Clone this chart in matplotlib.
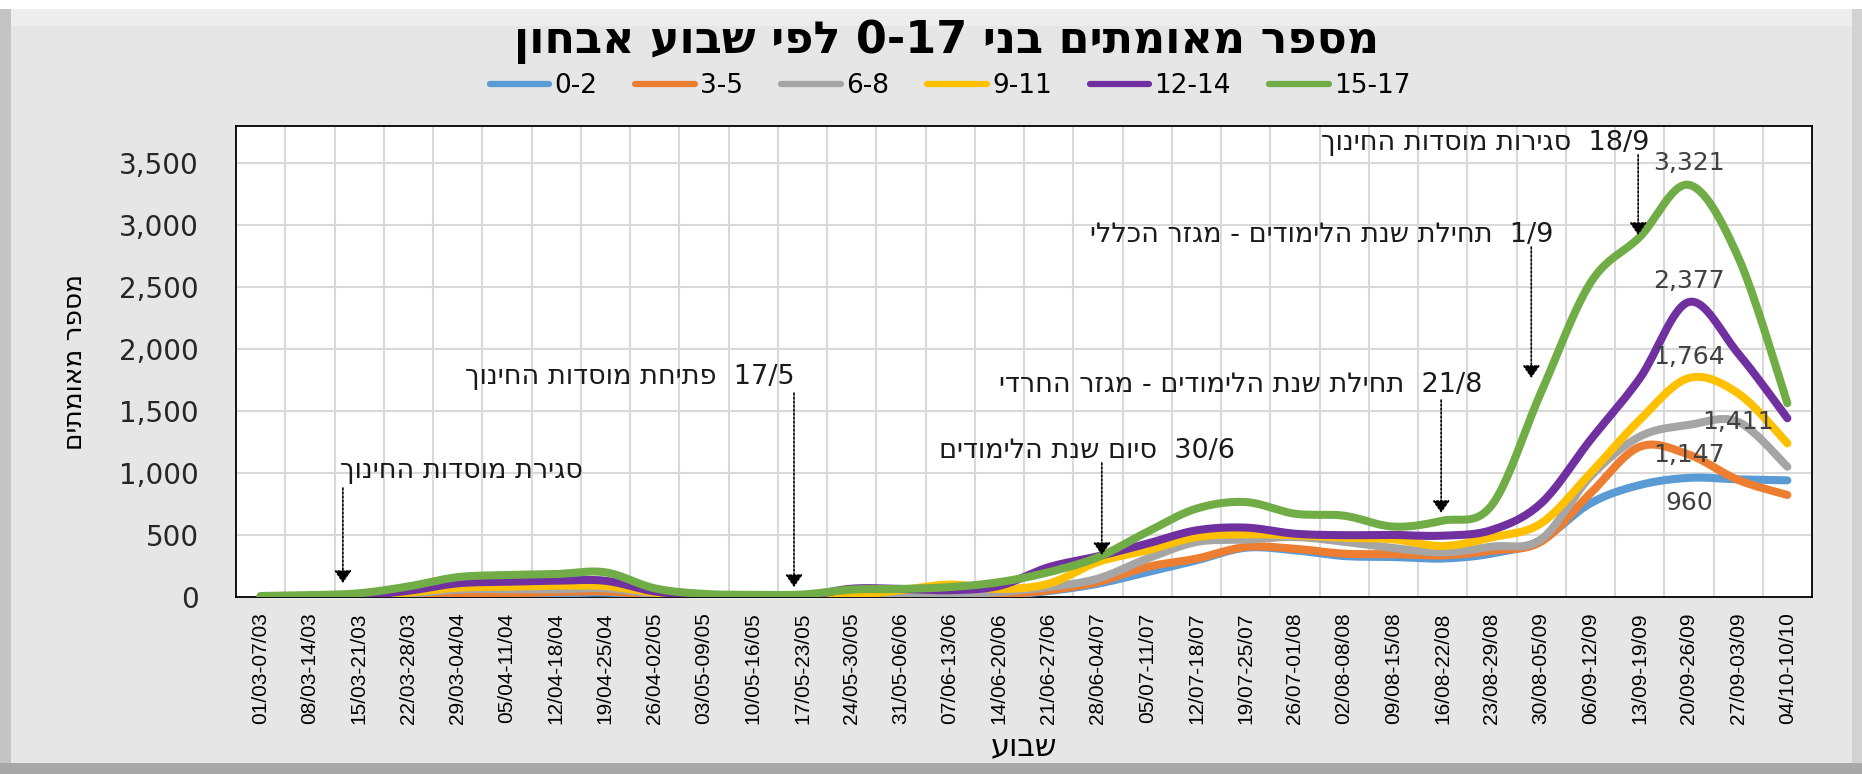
import numpy as np
import matplotlib
matplotlib.use('Agg')
import matplotlib.pyplot as plt
from matplotlib.patches import Rectangle
from matplotlib.lines import Line2D

# Semaines (axe X)
semaines = ['01/03-07/03', '08/03-14/03', '15/03-21/03', '22/03-28/03', '29/03-04/04',
            '05/04-11/04', '12/04-18/04', '19/04-25/04', '26/04-02/05', '03/05-09/05',
            '10/05-16/05', '17/05-23/05', '24/05-30/05', '31/05-06/06', '07/06-13/06',
            '14/06-20/06', '21/06-27/06', '28/06-04/07', '05/07-11/07', '12/07-18/07',
            '19/07-25/07', '26/07-01/08', '02/08-08/08', '09/08-15/08', '16/08-22/08',
            '23/08-29/08', '30/08-05/09', '06/09-12/09', '13/09-19/09', '20/09-26/09',
            '27/09-03/09', '04/10-10/10']

# Series par tranche d'age
age_0_2 = [2, 5, 8, 15, 25, 24, 28, 35, 15, 5, 3, 3, 5, 8, 10, 15,
           48, 107, 200, 295, 397, 376, 330, 322, 310, 350, 459, 755, 902, 960, 948, 940]
age_3_5 = [2, 4, 6, 15, 30, 30, 40, 45, 15, 5, 3, 3, 5, 8, 10, 20,
           54, 121, 242, 309, 403, 389, 349, 345, 335, 373, 446, 835, 1210, 1147, 943, 822]
age_6_8 = [2, 4, 8, 25, 60, 62, 62, 70, 25, 8, 4, 4, 10, 15, 20, 40,
           80, 148, 309, 443, 462, 483, 445, 395, 360, 406, 465, 970, 1292, 1386, 1411, 1050]
age_9_11 = [2, 5, 10, 35, 75, 83, 91, 88, 35, 10, 5, 5, 15, 55, 100, 65,
            107, 282, 376, 483, 505, 497, 478, 465, 411, 481, 594, 997, 1426, 1764, 1641, 1238]
age_12_14 = [2, 5, 12, 50, 110, 123, 131, 131, 45, 12, 6, 6, 67, 65, 55, 90,
             240, 328, 430, 537, 559, 510, 498, 500, 494, 540, 755, 1265, 1760, 2377, 1963, 1440]
age_15_17 = [8, 15, 30, 85, 160, 177, 185, 199, 70, 25, 18, 20, 60, 65, 80, 120,
             200, 320, 524, 712, 765, 671, 655, 567, 615, 741, 1650, 2530, 2900, 3321, 2740, 1561]

series = [age_0_2, age_3_5, age_6_8, age_9_11, age_12_14, age_15_17]
noms = ['0-2', '3-5', '6-8', '9-11', '12-14', '15-17']
couleurs = ['#5B9BD5', '#ED7D31', '#A5A5A5', '#FFC000', '#7030A0', '#70AD47']

yticks = [0, 500, 1000, 1500, 2000, 2500, 3000, 3500]

# Evenements annotes
evenements = ['סגירת מוסדות החינוך',
              '17/5  פתיחת מוסדות החינוך',
              '30/6  סיום שנת הלימודים',
              '21/8  תחילת שנת הלימודים - מגזר החרדי',
              '1/9  תחילת שנת הלימודים - מגזר הכללי',
              '18/9  סגירות מוסדות החינוך']
ev_texte_x = [6.55, 10.85, 19.79, 24.8, 26.24, 28.2]
ev_texte_y = [1015, 1773, 1176, 1708, 2917, 3658]
ev_fleche_x = [1.67, 10.83, 17.08, 23.97, 25.8, 27.97]
ev_fleche_haut = [878, 1643, 1080, 1587, 2820, 3562]
ev_fleche_bas = [113, 80, 338, 677, 1765, 2917]

titre = 'מספר מאומתים בני 0-17 לפי שבוע אבחון'
label_y = 'מספר מאומתים'
label_x = 'שבוע'


def heb(s):
    # matplotlib n'inverse pas le texte hebreu : on le fait a la main
    mots = s.split(' ')
    res = []
    for m in reversed(mots):
        if any('\u0590' <= c <= '\u05ff' for c in m):
            res.append(m[::-1])
        else:
            res.append(m)
    return ' '.join(res)


def lisse(y, n=20):
    # courbe lissee facon Excel (Catmull-Rom)
    y = np.asarray(y, dtype=float)
    x = np.arange(len(y), dtype=float)
    xs, ys = [], []
    for i in range(len(y) - 1):
        p0 = i - 1 if i > 0 else i
        p3 = i + 2 if i + 2 < len(y) else i + 1
        c1x = x[i] + (x[i + 1] - x[p0]) / 6
        c1y = y[i] + (y[i + 1] - y[p0]) / 6
        c2x = x[i + 1] - (x[p3] - x[i]) / 6
        c2y = y[i + 1] - (y[p3] - y[i]) / 6
        t = np.linspace(0, 1, n, endpoint=False)
        b0 = (1 - t) ** 3
        b1 = 3 * (1 - t) ** 2 * t
        b2 = 3 * (1 - t) * t ** 2
        b3 = t ** 3
        xs.append(b0 * x[i] + b1 * c1x + b2 * c2x + b3 * x[i + 1])
        ys.append(b0 * y[i] + b1 * c1y + b2 * c2y + b3 * y[i + 1])
    xs.append([x[-1]])
    ys.append([y[-1]])
    return np.concatenate(xs), np.concatenate(ys)


plt.rcParams['font.family'] = ['DejaVu Sans']

fig = plt.figure(figsize=(18.62, 7.74), dpi=100)
fig.patch.set_facecolor('#E6E6E6')

# cadre biseaute
W, H = 1862.0, 774.0
fig.patches.append(Rectangle((0, 1 - 9 / H), 1, 9 / H, transform=fig.transFigure,
                             facecolor='white', edgecolor='none', zorder=0))
fig.patches.append(Rectangle((0, 1 - 26 / H), 1, 17 / H, transform=fig.transFigure,
                             facecolor='#EDEDED', edgecolor='none', zorder=0))
fig.patches.append(Rectangle((0, 0), 11 / W, 1 - 9 / H, transform=fig.transFigure,
                             facecolor='#C4C4C4', edgecolor='none', zorder=0))
fig.patches.append(Rectangle((1 - 10 / W, 0), 10 / W, 1 - 9 / H, transform=fig.transFigure,
                             facecolor='#D2D2D2', edgecolor='none', zorder=0))
fig.patches.append(Rectangle((0, 0), 1, 11 / H, transform=fig.transFigure,
                             facecolor='#A8A8A8', edgecolor='none', zorder=0))

ax = fig.add_axes([236 / W, 177 / H, 1576 / W, 471 / H])
ax.set_facecolor('white')

for s, nom, c in zip(series, noms, couleurs):
    xs, ys = lisse(s)
    ax.plot(xs, ys, color=c, lw=5.8, solid_capstyle='round', label=nom, zorder=3)

ax.set_xlim(-0.5, len(semaines) - 0.5)
ax.set_ylim(0, 3795)
ax.set_xticks(np.arange(len(semaines)))
ax.set_xticklabels(semaines, rotation=90, fontsize=15, color='black',
                   family=['Liberation Sans', 'DejaVu Sans'])
ax.set_yticks(yticks)
ax.set_yticklabels([f'{v:,}' for v in yticks], fontsize=20, color='#262626')
ax.tick_params(axis='both', length=0)
ax.tick_params(axis='y', pad=27)
ax.tick_params(axis='x', pad=11)

# grille verticale entre les categories
for b in np.arange(0.5, len(semaines) - 0.5, 1):
    ax.axvline(b, color='#D9D9D9', lw=1.5, zorder=1)
for v in yticks[1:]:
    ax.axhline(v, color='#D9D9D9', lw=1.5, zorder=1)
for sp in ax.spines.values():
    sp.set_color('black')
    sp.set_linewidth(1.3)

# etiquettes de donnees
etiq = [(5, 29, 0, 16), (4, 29, 0, 15), (3, 29, 0, 15), (2, 30, 0, 0), (1, 29, 0, 0), (0, 29, 0, -18)]
for k, i, dx, dy in etiq:
    v = series[k][i]
    ax.annotate(f'{v:,}', (i, v), xytext=(dx, dy), textcoords='offset points',
                ha='center', va='center', fontsize=18, color='#404040', zorder=5)

# annotations des evenements
for t, tx, ty, fx, fh, fb in zip(evenements, ev_texte_x, ev_texte_y,
                                 ev_fleche_x, ev_fleche_haut, ev_fleche_bas):
    ax.text(tx, ty, heb(t), ha='right', va='center', fontsize=19.5, color='#1A1A1A', zorder=6)
    ax.annotate('', xy=(fx, fb), xytext=(fx, fh),
                arrowprops=dict(arrowstyle='-|>,head_length=0.5,head_width=0.35',
                                linestyle=(0, (1.2, 1.2)), color='black', lw=1.2,
                                mutation_scale=15, shrinkA=0, shrinkB=0), zorder=6)

fig.text(947 / W, 1 - 42 / H, heb(titre), ha='center', va='center', fontsize=32,
         fontweight='bold', color='black')
fig.text(75 / W, 1 - 362 / H, heb(label_y), ha='center', va='center', rotation=90,
         fontsize=19, color='black')
fig.text(1024 / W, 1 - 747 / H, heb(label_x), ha='center', va='center', fontsize=22, color='black')

poignees = [Line2D([0], [0], color=c, lw=4.5, solid_capstyle='round') for c in couleurs]
fig.legend(poignees, noms, loc='center', bbox_to_anchor=(950 / W, 1 - 86 / H), ncol=6,
           frameon=False, fontsize=19, handlelength=2.25, handletextpad=0.2, columnspacing=1.45)

fig.savefig('out.png', dpi=100, facecolor=fig.get_facecolor())
